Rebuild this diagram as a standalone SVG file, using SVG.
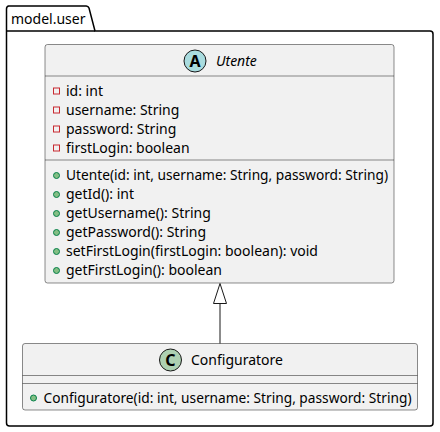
<svg xmlns="http://www.w3.org/2000/svg" width="440" height="432" viewBox="0 0 440 432">
<style>
text{font-family:"Noto Sans","DejaVu Sans",sans-serif;font-size:14px;fill:#000}
.box{fill:#F1F1F1;stroke:#181818;stroke-width:0.5}
.sep{stroke:#181818;stroke-width:0.5}
.priv{fill:none;stroke:#C82930;stroke-width:1}
.pub{fill:#84BE84;stroke:#038048;stroke-width:1}
.spot{stroke:#181818;stroke-width:1}
.letter{font-size:16px;font-weight:bold}
</style>
<rect width="440" height="432" fill="#FFFFFF"/>
<g id="pkg-model-user">
<path d="M8.5,6 L86,6 A3,3 0 0 1 89,8 L95,31 L430,31 A3,3 0 0 1 433,34 L433,423 A3,3 0 0 1 430,426 L9.5,426 A3,3 0 0 1 6.5,423 L6.5,9 A3,3 0 0 1 8.5,6 Z" fill="none" stroke="#000" stroke-width="1.5"/>
<line x1="6.5" y1="31" x2="95" y2="31" stroke="#000" stroke-width="1.5"/>
<text x="11" y="24">model.user</text>
</g>
<g id="Utente">
<rect class="box" x="45" y="44.5" width="349" height="238.5" rx="2.5"/>
<circle class="spot" cx="195" cy="61" r="11" fill="#A9DCDF"/>
<text class="letter" x="195" y="66.5" text-anchor="middle">A</text>
<text x="216" y="66" font-style="italic">Utente</text>
<line class="sep" x1="45" y1="76" x2="394" y2="76"/>
<rect class="priv" x="53.5" y="88" width="6" height="6"/>
<text x="66" y="95.5">id: int</text>
<rect class="priv" x="53.5" y="107" width="6" height="6"/>
<text x="66" y="114.5">username: String</text>
<rect class="priv" x="53.5" y="126" width="6" height="6"/>
<text x="66" y="133.5">password: String</text>
<rect class="priv" x="53.5" y="145" width="6" height="6"/>
<text x="66" y="152.5">firstLogin: boolean</text>
<line class="sep" x1="45" y1="160" x2="394" y2="160"/>
<circle class="pub" cx="56.5" cy="175.5" r="3"/>
<text x="66" y="180" textLength="322" lengthAdjust="spacingAndGlyphs">Utente(id: int, username: String, password: String)</text>
<circle class="pub" cx="56.5" cy="194.5" r="3"/>
<text x="66" y="199">getId(): int</text>
<circle class="pub" cx="56.5" cy="213.5" r="3"/>
<text x="66" y="218">getUsername(): String</text>
<circle class="pub" cx="56.5" cy="232.5" r="3"/>
<text x="66" y="237">getPassword(): String</text>
<circle class="pub" cx="56.5" cy="251.5" r="3"/>
<text x="66" y="256">setFirstLogin(firstLogin: boolean): void</text>
<circle class="pub" cx="56.5" cy="270.5" r="3"/>
<text x="66" y="275">getFirstLogin(): boolean</text>
</g>
<g id="Configuratore">
<rect class="box" x="22.5" y="343.5" width="395" height="66.5" rx="2.5"/>
<circle class="spot" cx="170.5" cy="360" r="11" fill="#ADD1B2"/>
<text class="letter" x="170.5" y="365.5" text-anchor="middle">C</text>
<text x="191" y="365">Configuratore</text>
<line class="sep" x1="22.5" y1="375.5" x2="417.5" y2="375.5"/>
<line class="sep" x1="22.5" y1="383.5" x2="417.5" y2="383.5"/>
<circle class="pub" cx="33.5" cy="398" r="3"/>
<text x="43.5" y="402.5" textLength="368" lengthAdjust="spacingAndGlyphs">Configuratore(id: int, username: String, password: String)</text>
</g>
<g id="connectors">
<line x1="220" y1="303.5" x2="220" y2="343.5" stroke="#181818" stroke-width="1"/>
<polygon points="220,283.5 213.5,303.5 226.5,303.5" fill="#FFFFFF" stroke="#181818" stroke-width="1"/>
</g>
</svg>
